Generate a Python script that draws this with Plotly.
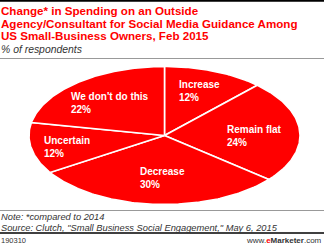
import numpy as np
import plotly.graph_objects as go

# ---- data ----
categories = ["Increase", "Remain flat", "Decrease", "Uncertain", "We don't do this"]
values = [12, 24, 30, 12, 22]
value_labels = ["12%", "24%", "30%", "12%", "22%"]

title_lines = ["Change* in Spending on an Outside",
               "Agency/Consultant for Social Media Guidance Among",
               "US Small-Business Owners, Feb 2015"]
subtitle = "% of respondents"
note = "Note: *compared to 2014"
source = 'Source: Clutch, "Small Business Social Engagement," May 6, 2015'
chart_id = "190310"

# ---- layout constants ----
W, H = 324, 248
RED = "#ff0000"
CX, CY, RX, RY = 164.5, 135.5, 135.5, 69
label_pos = [(177, 91), (225, 136), (138, 178), (42, 147), (69, 103)]
title_y = [10.5, 23, 35.5]
FONT = "Liberation Sans, Arial"

fig = go.Figure()

total = sum(values)
start = 0.0
for cat, v in zip(categories, values):
    a0 = start / total * 2 * np.pi
    a1 = (start + v) / total * 2 * np.pi
    t = np.linspace(a0, a1, max(int(v * 4), 8))
    xs = np.concatenate([[CX], CX + RX * np.sin(t), [CX]])
    ys = np.concatenate([[CY], CY - RY * np.cos(t), [CY]])
    fig.add_trace(go.Scatter(x=xs, y=ys, mode="lines", fill="toself",
                             fillcolor=RED, line=dict(color="white", width=1.6),
                             hoverinfo="text", text=cat, showlegend=False))
    start += v

for cat, lab, (lx, ly) in zip(categories, value_labels, label_pos):
    fig.add_annotation(x=lx, y=ly, xref="x", yref="y", text=f"<b>{cat}<br>{lab}</b>",
                       showarrow=False, xanchor="left", yanchor="middle", align="left",
                       font=dict(family=FONT, size=10, color="white"))

# title
for line, ty in zip(title_lines, title_y):
    fig.add_annotation(x=0, y=ty, xref="x", yref="y", xanchor="left", yanchor="middle",
                       showarrow=False, text=f"<b>{line}</b>", xshift=-1,
                       font=dict(family=FONT, size=11.6, color=RED))
fig.add_annotation(x=0, y=49, xref="x", yref="y", xanchor="left", yanchor="middle",
                   showarrow=False, text=f"<i>{subtitle}</i>", xshift=-1,
                   font=dict(family=FONT, size=10.4, color="#333333"))
fig.add_annotation(x=0, y=216.5, xref="x", yref="y", xanchor="left", yanchor="middle",
                   showarrow=False, text=f"<i>{note}</i>", xshift=-1,
                   font=dict(family=FONT, size=9.3, color="#333333"))
fig.add_annotation(x=0, y=227.5, xref="x", yref="y", xanchor="left", yanchor="middle",
                   showarrow=False, text=f"<i>{source}</i>", xshift=-1,
                   font=dict(family=FONT, size=9.3, color="#333333"))
fig.add_annotation(x=0, y=240.5, xref="x", yref="y", xanchor="left", yanchor="middle",
                   showarrow=False, text=chart_id, xshift=-1,
                   font=dict(family=FONT, size=7.5, color="#333333"))
fig.add_annotation(x=324, y=240.5, xref="x", yref="y", xanchor="right", yanchor="middle",
                   showarrow=False,
                   text="www.<b><span style='color:#ff0000'>e</span>Marketer</b>.com",
                   font=dict(family=FONT, size=8, color="#333333"))

shapes = [
    dict(type="line", x0=0, x1=W, y0=0.8, y1=0.8, line=dict(color="black", width=2)),
    dict(type="line", x0=0, x1=W, y0=58.5, y1=58.5, line=dict(color="#999999", width=1)),
    dict(type="line", x0=0, x1=W, y0=210.5, y1=210.5, line=dict(color="#999999", width=1)),
    dict(type="line", x0=0, x1=W, y0=233, y1=233, line=dict(color="black", width=1.5)),
]

fig.update_layout(
    width=W, height=H, margin=dict(l=0, r=0, t=0, b=0),
    paper_bgcolor="white", plot_bgcolor="white", shapes=shapes,
    xaxis=dict(range=[0, W], visible=False, fixedrange=True),
    yaxis=dict(range=[H, 0], visible=False, fixedrange=True),
)

fig.write_html("out.html")
